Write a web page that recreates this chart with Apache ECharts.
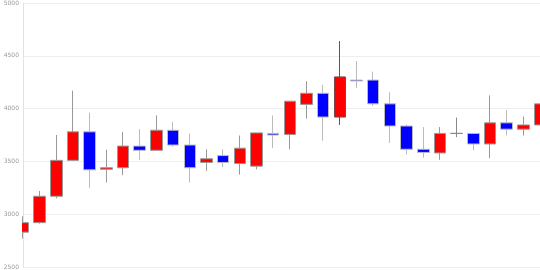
<!DOCTYPE html>
<html>
<head>
<meta charset="utf-8">
<script src="https://cdn.jsdelivr.net/npm/echarts@6/dist/echarts.min.js"></script>
<style>html,body{margin:0;padding:0;background:#fff}#c{width:540px;height:270px}</style>
</head>
<body>
<div id="c"></div>
<script>
var categories = ['1','2','3','4','5','6','7','8','9','10','11','12','13','14','15','16','17','18','19','20','21','22','23','24','25','26','27','28','29','30','31','32'];
var openValues  = [2830,2920,3170,3510,3780,3425,3440,3645,3605,3795,3655,3490,3555,3480,3455,3765,3755,4040,4145,3920,4270,4270,4045,3835,3615,3580,3765,3765,3665,3865,3805,3845];
var closeValues = [2920,3170,3510,3780,3420,3440,3645,3605,3795,3655,3440,3525,3490,3625,3770,3750,4070,4145,3920,4300,4262,4045,3835,3615,3585,3765,3765,3665,3865,3805,3845,4045];
var lowValues   = [2770,2910,3150,3505,3250,3300,3370,3515,3600,3640,3300,3410,3445,3375,3425,3625,3615,3905,3695,3845,4195,4025,3675,3565,3535,3515,3730,3605,3530,3745,3745,3845];
var highValues  = [2980,3220,3750,4170,3960,3610,3780,3805,3935,3875,3765,3615,3615,3745,3770,3935,4070,4260,4225,4640,4450,4350,4155,3850,3825,3825,3915,3765,4125,3985,3925,4045];
var yTicks = [2500,3000,3500,4000,4500,5000];

var highlightIndex = 19;
var data = categories.map(function(c,i){
  var item = {value:[openValues[i],closeValues[i],lowValues[i],highValues[i]]};
  if (i === highlightIndex) item.itemStyle = {borderColor:'#7a4848'};
  return item;
});
var gridLeft = 23;
var chart = echarts.init(document.getElementById('c'));
var axisCommon = {type:'value',min:yTicks[0],max:yTicks[yTicks.length-1],interval:500};
chart.setOption({
  animation:false,
  grid:{left:gridLeft,right:0,top:3,bottom:3,containLabel:false},
  xAxis:{type:'category',data:categories,boundaryGap:false,
    axisLine:{show:false},axisTick:{show:false},axisLabel:{show:false},splitLine:{show:false}},
  yAxis:[
    Object.assign({}, axisCommon, {z:0,
      axisLine:{show:true,lineStyle:{color:'#e2e2e2'}},axisTick:{show:false},
      axisLabel:{show:false},
      splitLine:{lineStyle:{color:'#eeeeee'}}}),
    Object.assign({}, axisCommon, {z:10,position:'left',
      axisLine:{show:false},axisTick:{show:false},splitLine:{show:false},
      axisLabel:{fontSize:6,color:'#999',margin:4,fontFamily:'DejaVu Sans',
        formatter:function(v){return String(v);}}})
  ],
  graphic:[{type:'rect',z:5,left:0,top:0,shape:{width:gridLeft-1,height:270},style:{fill:'#ffffff'},silent:true}],
  series:[{type:'candlestick',data:data,barWidth:12,
    itemStyle:{color:'#ff0000',color0:'#0000ff',borderColor:'#999999',borderColor0:'#bbbbbb',borderColorDoji:'#888888',borderWidth:1}}]
});
</script>
</body>
</html>
